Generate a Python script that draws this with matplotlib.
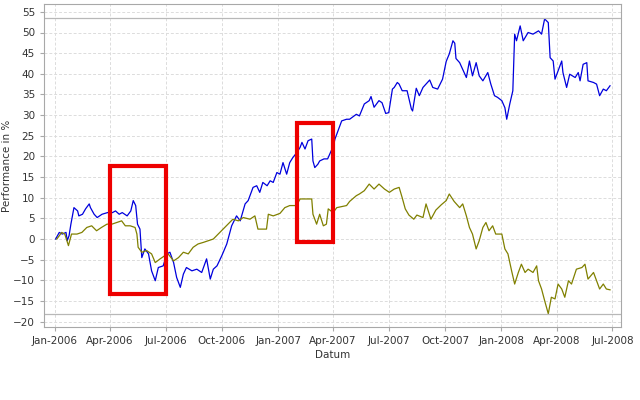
#performance chart with highlighted periods
import numpy as np
import pandas as pd
import matplotlib
matplotlib.use("Agg")
import matplotlib.pyplot as plt
import matplotlib.dates as mdates
from matplotlib.patches import Rectangle

# blue series (dates, performance in %)
blue_dates = [
    "2006-01-02", "2006-01-08", "2006-01-13", "2006-01-19", "2006-01-21", "2006-01-24", "2006-01-27",
    "2006-02-01", "2006-02-07", "2006-02-09", "2006-02-15", "2006-02-20", "2006-02-26", "2006-02-28",
    "2006-03-06", "2006-03-11", "2006-03-19", "2006-03-28", "2006-04-05", "2006-04-10", "2006-04-16",
    "2006-04-21", "2006-04-29", "2006-05-05", "2006-05-09", "2006-05-13", "2006-05-16", "2006-05-20",
    "2006-05-23", "2006-05-28", "2006-06-03", "2006-06-08", "2006-06-14", "2006-06-19", "2006-06-27",
    "2006-07-03", "2006-07-08", "2006-07-14", "2006-07-19", "2006-07-25", "2006-07-30", "2006-08-04",
    "2006-08-13", "2006-08-21", "2006-08-29", "2006-09-06", "2006-09-12", "2006-09-17", "2006-09-23",
    "2006-10-01", "2006-10-09", "2006-10-17", "2006-10-25", "2006-10-31", "2006-11-08", "2006-11-13",
    "2006-11-21", "2006-11-27", "2006-12-02", "2006-12-07", "2006-12-14", "2006-12-19", "2006-12-24",
    "2006-12-30", "2007-01-04", "2007-01-09", "2007-01-15", "2007-01-20", "2007-01-25", "2007-02-01",
    "2007-02-06", "2007-02-09", "2007-02-14", "2007-02-19", "2007-02-25", "2007-02-27", "2007-03-02",
    "2007-03-07", "2007-03-10", "2007-03-17", "2007-03-23", "2007-03-29", "2007-04-01", "2007-04-04",
    "2007-04-09", "2007-04-15", "2007-04-23", "2007-04-28", "2007-05-09", "2007-05-14", "2007-05-22",
    "2007-05-30", "2007-06-02", "2007-06-07", "2007-06-15", "2007-06-20", "2007-06-26", "2007-07-01",
    "2007-07-07", "2007-07-10", "2007-07-15", "2007-07-18", "2007-07-23", "2007-07-31", "2007-08-07",
    "2007-08-09", "2007-08-15", "2007-08-20", "2007-08-26", "2007-09-06", "2007-09-11", "2007-09-19",
    "2007-09-27", "2007-10-03", "2007-10-08", "2007-10-14", "2007-10-17", "2007-10-19", "2007-10-25",
    "2007-11-05", "2007-11-10", "2007-11-15", "2007-11-21", "2007-11-26", "2007-12-02", "2007-12-10",
    "2007-12-15", "2007-12-21", "2007-12-26", "2008-01-02", "2008-01-07", "2008-01-10", "2008-01-15",
    "2008-01-20", "2008-01-23", "2008-01-26", "2008-02-01", "2008-02-06", "2008-02-14", "2008-02-22",
    "2008-03-02", "2008-03-07", "2008-03-12", "2008-03-18", "2008-03-21", "2008-03-26", "2008-03-29",
    "2008-04-03", "2008-04-09", "2008-04-11", "2008-04-17", "2008-04-22", "2008-05-01", "2008-05-06",
    "2008-05-09", "2008-05-14", "2008-05-20", "2008-05-22", "2008-05-31", "2008-06-05", "2008-06-10",
    "2008-06-16", "2008-06-21", "2008-06-27",
]
blue_values = [
    0.0, 1.6, 1.2, 1.6, -0.4, 0.8, 3.6,
    7.6, 6.8, 5.6, 6.0, 7.3, 8.5, 7.6,
    6.0, 5.2, 6.0, 6.4, 6.4, 6.8, 6.0,
    6.4, 5.6, 6.8, 9.3, 8.1, 3.6, 2.4,
    -4.5, -2.4, -3.6, -7.7, -10.1, -6.9, -6.5,
    -3.6, -3.2, -5.7, -9.3, -11.7, -8.5, -6.9,
    -7.7, -7.3, -8.1, -4.8, -9.7, -7.3, -6.5,
    -4.0, -1.2, 3.2, 5.6, 4.4, 8.5, 9.3,
    12.5, 12.9, 11.3, 13.7, 12.9, 14.1, 13.7,
    16.1, 15.7, 18.5, 15.7, 18.5, 19.7, 21.0,
    22.2, 23.4, 21.8, 23.8, 24.2, 18.9, 17.3,
    18.1, 18.9, 19.4, 19.4, 21.4, 22.2, 24.2,
    26.2, 28.6, 29.0, 29.0, 30.2, 29.8, 32.7,
    33.5, 34.5, 31.9, 33.5, 33.0, 30.4, 30.6,
    36.3, 36.7, 37.9, 37.5, 35.9, 35.9, 31.5,
    31.0, 36.5, 34.7, 36.7, 38.5, 36.7, 36.3,
    38.7, 43.0, 44.8, 48.0, 47.4, 43.7, 42.7,
    39.1, 43.1, 39.5, 42.7, 39.5, 38.3, 40.3,
    37.5, 34.7, 34.3, 33.5, 31.8, 29.0, 32.7,
    35.9, 49.6, 48.0, 51.6, 48.0, 50.0, 49.6,
    50.4, 49.6, 53.3, 52.4, 43.9, 43.1, 38.7,
    40.7, 43.1, 40.3, 36.7, 39.9, 39.1, 40.3,
    38.3, 42.3, 42.7, 38.3, 37.9, 37.5, 34.7,
    36.3, 35.9, 37.1,
]

# olive series (dates, performance in %)
olive_dates = [
    "2006-01-04", "2006-01-12", "2006-01-17", "2006-01-23", "2006-01-28", "2006-02-06", "2006-02-14",
    "2006-02-22", "2006-03-02", "2006-03-10", "2006-03-18", "2006-03-27", "2006-04-04", "2006-04-12",
    "2006-04-20", "2006-04-26", "2006-05-04", "2006-05-12", "2006-05-15", "2006-05-17", "2006-05-23",
    "2006-05-31", "2006-06-08", "2006-06-14", "2006-06-22", "2006-06-30", "2006-07-05", "2006-07-14",
    "2006-07-22", "2006-07-30", "2006-08-07", "2006-08-15", "2006-08-23", "2006-09-01", "2006-09-09",
    "2006-09-17", "2006-09-25", "2006-10-03", "2006-10-11", "2006-10-19", "2006-10-28", "2006-11-05",
    "2006-11-16", "2006-11-24", "2006-11-29", "2006-12-13", "2006-12-16", "2006-12-24", "2007-01-04",
    "2007-01-12", "2007-01-20", "2007-01-31", "2007-02-06", "2007-02-17", "2007-02-25", "2007-02-27",
    "2007-03-05", "2007-03-10", "2007-03-16", "2007-03-21", "2007-03-24", "2007-04-01", "2007-04-07",
    "2007-04-23", "2007-04-28", "2007-05-09", "2007-05-14", "2007-05-22", "2007-05-30", "2007-06-07",
    "2007-06-15", "2007-06-24", "2007-07-02", "2007-07-10", "2007-07-18", "2007-07-23", "2007-07-28",
    "2007-08-03", "2007-08-11", "2007-08-16", "2007-08-26", "2007-08-31", "2007-09-08", "2007-09-16",
    "2007-09-25", "2007-10-03", "2007-10-08", "2007-10-16", "2007-10-25", "2007-10-30", "2007-11-05",
    "2007-11-10", "2007-11-15", "2007-11-21", "2007-11-26", "2007-12-02", "2007-12-07", "2007-12-12",
    "2007-12-18", "2007-12-23", "2008-01-02", "2008-01-07", "2008-01-12", "2008-01-18", "2008-01-23",
    "2008-01-29", "2008-02-03", "2008-02-09", "2008-02-14", "2008-02-22", "2008-02-28", "2008-03-02",
    "2008-03-07", "2008-03-12", "2008-03-18", "2008-03-23", "2008-03-29", "2008-04-03", "2008-04-09",
    "2008-04-14", "2008-04-20", "2008-04-25", "2008-05-03", "2008-05-12", "2008-05-17", "2008-05-22",
    "2008-05-31", "2008-06-05", "2008-06-10", "2008-06-16", "2008-06-21", "2008-06-27",
]
olive_values = [
    0.0, 1.6, 1.2, -1.6, 1.2, 1.2, 1.6,
    2.8, 3.2, 2.0, 2.8, 3.6, 3.6, 4.0,
    4.4, 3.2, 3.2, 2.8, 1.2, -2.0, -3.2,
    -2.8, -3.6, -5.7, -4.8, -4.0, -3.6, -5.3,
    -4.5, -3.2, -3.6, -2.0, -1.2, -0.8, -0.4,
    0.0, 1.2, 2.4, 3.6, 4.8, 4.4, 5.2,
    4.8, 5.6, 2.4, 2.4, 6.0, 5.6, 6.2,
    7.6, 8.1, 8.1, 9.7, 9.7, 9.7, 6.0,
    3.6, 6.0, 3.2, 3.6, 7.3, 6.4, 7.6,
    8.1, 9.1, 10.5, 10.9, 11.7, 13.3, 12.1,
    13.3, 12.1, 11.3, 12.1, 12.5, 10.0, 7.3,
    5.8, 4.8, 5.8, 5.2, 8.5, 4.8, 7.0,
    8.3, 9.3, 10.9, 9.1, 7.6, 8.5, 5.6,
    2.8, 1.2, -2.4, -0.4, 2.8, 4.0, 2.0,
    3.2, 1.2, 1.2, -2.4, -3.6, -7.7, -10.9,
    -8.1, -6.1, -8.1, -7.3, -8.1, -6.5, -10.1,
    -12.1, -14.9, -18.1, -14.1, -14.5, -10.9, -12.1,
    -14.1, -10.1, -10.9, -7.3, -6.9, -6.1, -9.7,
    -8.1, -10.1, -12.1, -10.9, -12.1, -12.3,
]

# highlighted periods (start, end, low, high)
highlights = [
    ("2006-04-01", "2006-07-01", -13.2, 17.7),
    ("2007-02-01", "2007-04-01", -0.8, 28.1),
]

x_ticks = pd.date_range("2006-01-01", "2008-07-01", freq="QS")
y_ticks = np.arange(-20, 56, 5)

fig = plt.figure(figsize=(6.4, 4.0), dpi=100)
ax = fig.add_axes([0.06875, 0.1825, 0.9016, 0.8075])

bd = pd.to_datetime(blue_dates)
od = pd.to_datetime(olive_dates)
ax.plot(bd, blue_values, color="#0000dd", lw=0.9)
ax.plot(od, olive_values, color="#808000", lw=0.9)

# max / min marker lines
ax.axhline(max(blue_values) + 0.2, color="#b8b8b8", lw=0.9)
ax.axhline(min(olive_values), color="#b8b8b8", lw=0.9)

for start, end, lo, hi in highlights:
    s = mdates.date2num(pd.Timestamp(start))
    e = mdates.date2num(pd.Timestamp(end))
    ax.add_patch(Rectangle((s, lo), e - s, hi - lo, fill=False,
                           edgecolor="#ee0000", lw=3, zorder=5))

ax.set_xlim(pd.Timestamp("2005-12-14"), pd.Timestamp("2008-07-15"))
ax.set_ylim(-21.3, 56.9)
ax.set_xticks(x_ticks)
ax.xaxis.set_major_formatter(mdates.DateFormatter("%b-%Y"))
ax.set_yticks(y_ticks)

ax.grid(True, color="#dcdcdc", ls=(0, (3, 2)), lw=0.7)
ax.set_axisbelow(True)
for sp in ax.spines.values():
    sp.set_color("#a8a8a8")
ax.tick_params(colors="#a8a8a8", labelcolor="#333333", labelsize=7.5,
               length=3, width=0.8)

ax.set_ylabel("Performance in %", fontsize=7.5, color="#333333")
ax.yaxis.set_label_coords(-0.055, 0.5)
ax.set_xlabel("Datum", fontsize=7.5, color="#333333", labelpad=3)

fig.savefig("out.png", dpi=100)
